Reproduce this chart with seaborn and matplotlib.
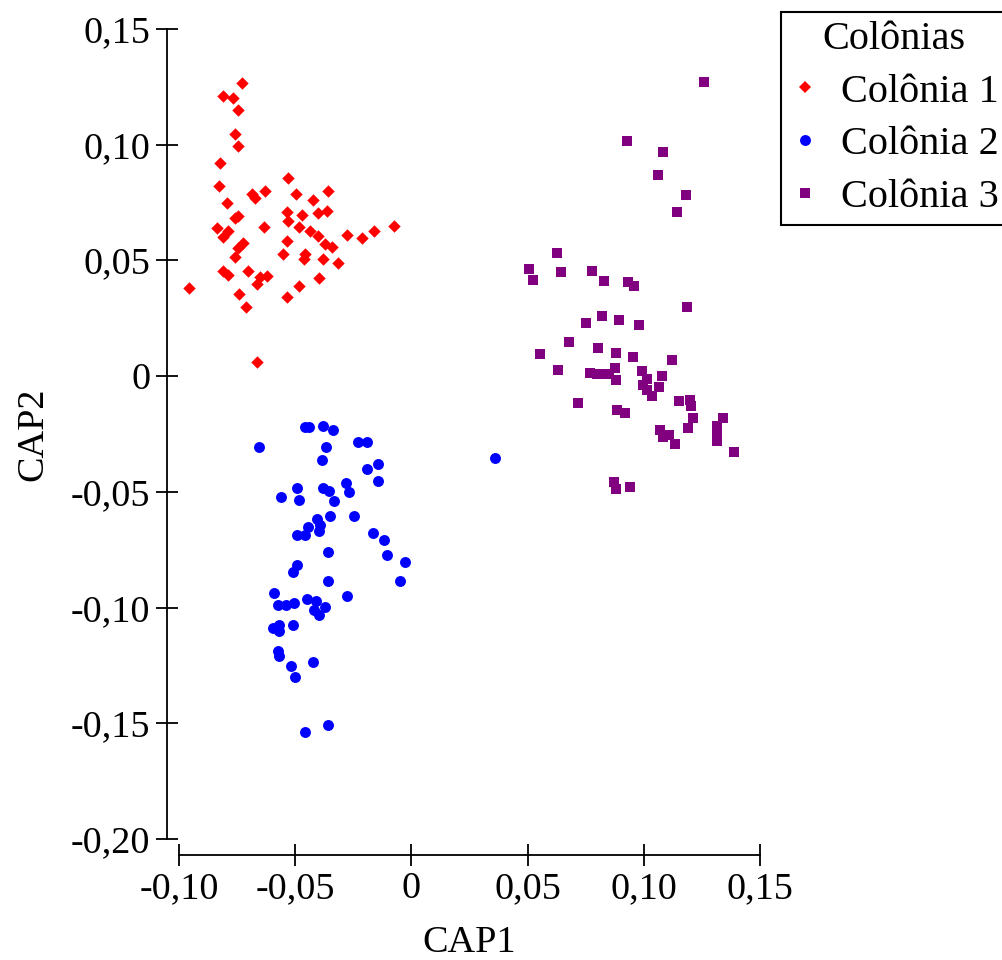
import matplotlib
matplotlib.use("Agg")
import matplotlib.pyplot as plt
from matplotlib.lines import Line2D
import seaborn as sns
import pandas as pd
import numpy as np

# ---------------- data ----------------
col1_x = [-0.0730, -0.0812, -0.0769, -0.0747, -0.0759, -0.0745, -0.0824, -0.0530, -0.0827, -0.0687,
          -0.0630, -0.0673, -0.0497, -0.0358, -0.0422, -0.0795, -0.0745, -0.0759, -0.0534, -0.0472,
          -0.0530, -0.0401, -0.0364, -0.0838, -0.0788, -0.0809, -0.0634, -0.0482, -0.0436, -0.0401,
          -0.0276, -0.0211, -0.0160, -0.0074, -0.0537, -0.0372, -0.0340, -0.0726, -0.0745, -0.0759,
          -0.0554, -0.0458, -0.0462, -0.0379, -0.0317, -0.0812, -0.0788, -0.0702, -0.0651, -0.0623,
          -0.0663, -0.0398, -0.0484, -0.0956, -0.0742, -0.0534, -0.0713, -0.0666]
col1_y = [0.1268, 0.1212, 0.1201, 0.1150, 0.1045, 0.0994, 0.0922, 0.0856, 0.0823, 0.0787,
          0.0801, 0.0771, 0.0786, 0.0799, 0.0761, 0.0749, 0.0693, 0.0682, 0.0711, 0.0696,
          0.0672, 0.0704, 0.0715, 0.0639, 0.0628, 0.0603, 0.0646, 0.0643, 0.0628, 0.0606,
          0.0610, 0.0596, 0.0627, 0.0650, 0.0585, 0.0571, 0.0557, 0.0577, 0.0552, 0.0514,
          0.0528, 0.0528, 0.0506, 0.0506, 0.0490, 0.0456, 0.0437, 0.0456, 0.0430, 0.0433,
          0.0398, 0.0423, 0.0390, 0.0382, 0.0354, 0.0343, 0.0300, 0.0062]

col2_x = [-0.0458, -0.0439, -0.0379, -0.0339, -0.0656, -0.0367, -0.0228, -0.0190, -0.0386, -0.0144,
          -0.0192, -0.0144, -0.0281, -0.0491, -0.0379, -0.0353, -0.0268, -0.0560, -0.0482, -0.0332,
          -0.0350, -0.0246, -0.0407, -0.0393, -0.0444, -0.0396, -0.0491, -0.0457, -0.0165, -0.0118,
          -0.0358, -0.0105, -0.0028, -0.0494, -0.0508, -0.0358, -0.0049, -0.0591, -0.0278, -0.0573,
          -0.0540, -0.0505, -0.0451, -0.0410, -0.0419, -0.0370, -0.0396, -0.0594, -0.0568, -0.0570,
          -0.0511, -0.0575, -0.0571, -0.0518, -0.0423, -0.0500, -0.0358, -0.0457, 0.0360]
col2_y = [-0.0218, -0.0218, -0.0214, -0.0233, -0.0305, -0.0308, -0.0286, -0.0286, -0.0362, -0.0380,
          -0.0403, -0.0452, -0.0460, -0.0485, -0.0485, -0.0495, -0.0501, -0.0522, -0.0537, -0.0541,
          -0.0603, -0.0604, -0.0619, -0.0643, -0.0651, -0.0668, -0.0685, -0.0686, -0.0679, -0.0707,
          -0.0761, -0.0773, -0.0803, -0.0816, -0.0848, -0.0886, -0.0886, -0.0938, -0.0949, -0.0990,
          -0.0988, -0.0982, -0.0963, -0.0972, -0.1011, -0.0999, -0.1032, -0.1088, -0.1075, -0.1100,
          -0.1074, -0.1186, -0.1208, -0.1252, -0.1234, -0.1299, -0.1509, -0.1538, -0.0354]

col3_x = [0.1260, 0.0929, 0.1084, 0.1062, 0.1183, 0.1144, 0.0628, 0.0507, 0.0525, 0.0645,
          0.0778, 0.0830, 0.0933, 0.0959, 0.1187, 0.0821, 0.0753, 0.0895, 0.0981, 0.0679,
          0.0555, 0.0804, 0.0882, 0.0955, 0.1123, 0.0632, 0.0770, 0.0797, 0.0826, 0.0852,
          0.0877, 0.0882, 0.0994, 0.1015, 0.1080, 0.0998, 0.1067, 0.1012, 0.1037, 0.0718,
          0.1153, 0.1200, 0.1204, 0.0886, 0.0920, 0.1210, 0.1342, 0.1316, 0.1191, 0.1071,
          0.1110, 0.1084, 0.1316, 0.1316, 0.1136, 0.1389, 0.0873, 0.0882, 0.0942]
col3_y = [0.1270, 0.1015, 0.0967, 0.0868, 0.0781, 0.0708, 0.0531, 0.0462, 0.0414, 0.0449,
          0.0453, 0.0410, 0.0405, 0.0388, 0.0297, 0.0259, 0.0228, 0.0241, 0.0220, 0.0146,
          0.0094, 0.0120, 0.0099, 0.0081, 0.0068, 0.0025, 0.0012, 0.0008, 0.0011, 0.0011,
          0.0034, -0.0018, 0.0021, -0.0014, -0.0001, -0.0038, -0.0047, -0.0060, -0.0087, -0.0117,
          -0.0109, -0.0104, -0.0130, -0.0148, -0.0161, -0.0182, -0.0182, -0.0217, -0.0225, -0.0234,
          -0.0254, -0.0262, -0.0254, -0.0280, -0.0295, -0.0329, -0.0459, -0.0489, -0.0480]

groups = ["Colônia 1", "Colônia 2", "Colônia 3"]
colors = ["#ff0000", "#0000ff", "#800080"]
markers = ["D", "o", "s"]

x_ticks = [-0.10, -0.05, 0, 0.05, 0.10, 0.15]
x_ticklabels = ["-0,10", "-0,05", "0", "0,05", "0,10", "0,15"]
y_ticks = [-0.20, -0.15, -0.10, -0.05, 0, 0.05, 0.10, 0.15]
y_ticklabels = ["-0,20", "-0,15", "-0,10", "-0,05", "0", "0,05", "0,10", "0,15"]

# ---------------- style ----------------
sns.set_style("white")
plt.rcParams["font.family"] = ["Liberation Serif", "DejaVu Serif"]
plt.rcParams["text.color"] = "black"
plt.rcParams["axes.labelcolor"] = "black"

FS = 27.5
LFS = 29

df = pd.concat([
    pd.DataFrame({"CAP1": col1_x, "CAP2": col1_y, "Colônias": groups[0]}),
    pd.DataFrame({"CAP1": col2_x, "CAP2": col2_y, "Colônias": groups[1]}),
    pd.DataFrame({"CAP1": col3_x, "CAP2": col3_y, "Colônias": groups[2]}),
], ignore_index=True)

fig = plt.figure(figsize=(10.02, 9.6), dpi=100)
ax = fig.add_axes([179 / 1002, 1 - 839 / 960, 581 / 1002, 810 / 960])

sizes = {"D": 40, "o": 62, "s": 62}
for g, c, m in zip(groups, colors, markers):
    sub = df[df["Colônias"] == g]
    sns.scatterplot(data=sub, x="CAP1", y="CAP2", color=c, marker=m,
                    s=sizes[m], linewidth=0, ax=ax, legend=False, clip_on=False)

ax.set_xlim(-0.10, 0.15)
ax.set_ylim(-0.20, 0.15)
ax.set_xticks(x_ticks)
ax.set_xticklabels(x_ticklabels)
ax.set_yticks(y_ticks)
ax.set_yticklabels(y_ticklabels)

for side in ["top", "right"]:
    ax.spines[side].set_visible(False)
ax.spines["left"].set_position(("outward", 12 * 0.72))
ax.spines["bottom"].set_position(("outward", 16 * 0.72))
for side in ["left", "bottom"]:
    ax.spines[side].set_linewidth(1.3)
    ax.spines[side].set_color("black")

ax.tick_params(axis="both", which="major", bottom=True, left=True,
               top=False, right=False,
               direction="inout", length=15.8, width=1.3, labelsize=FS,
               pad=4, colors="black")

ax.set_xlabel("CAP1", fontsize=FS, labelpad=14)
ax.set_ylabel("CAP2", fontsize=FS, labelpad=15)

handles = [Line2D([0], [0], marker=m, color=c, linestyle="none",
                  markersize=np.sqrt(sizes[m]), markeredgewidth=0)
           for c, m in zip(colors, markers)]
leg = ax.legend(handles, groups, title="Colônias", loc="upper left",
                bbox_to_anchor=(781 / 1002, 1 - 12 / 960),
                bbox_transform=fig.transFigure, borderaxespad=0,
                fontsize=LFS, title_fontsize=LFS,
                frameon=True, fancybox=False, borderpad=0.22,
                handlelength=0.76, handletextpad=0.5, labelspacing=0.385)
leg.get_frame().set_edgecolor("black")
leg.get_frame().set_linewidth(1.5)
leg.get_frame().set_facecolor("white")
leg.get_frame().set_alpha(1)

fig.savefig("out.png", dpi=100)
